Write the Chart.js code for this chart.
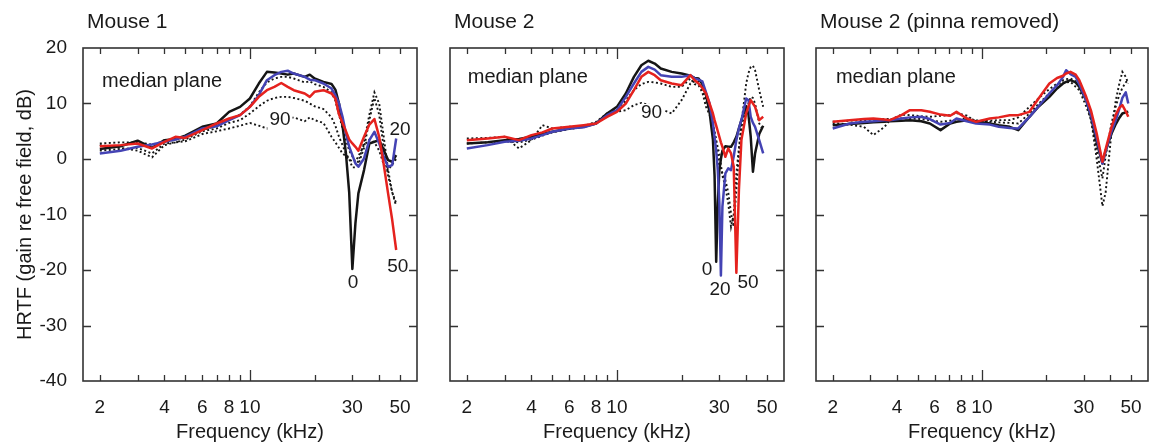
<!DOCTYPE html>
<html><head><meta charset="utf-8">
<script src="https://cdn.jsdelivr.net/npm/chart.js@4.4.0/dist/chart.umd.min.js"></script>
<style>
html,body{margin:0;padding:0;background:#fff;}
#wrap{position:relative;width:1152px;height:444px;overflow:hidden;background:#fff;}
canvas{position:absolute;top:0;}
</style></head><body>
<div id="wrap">
<canvas id="c1" width="430" height="444" style="left:0px"></canvas>
<canvas id="c2" width="370" height="444" style="left:430px"></canvas>
<canvas id="c3" width="352" height="444" style="left:800px"></canvas>
</div>
<script>
// ---------- tick values / labels ----------
const xTickValues = [2, 3, 4, 5, 6, 7, 8, 9, 10, 20, 30, 40, 50];
const xTickLabels = [2, 4, 6, 8, 10, 30, 50];
const yTickValues = [-40, -30, -20, -10, 0, 10, 20];

// ---------- Mouse 1 ----------
const freq1 = [2, 2.5, 3, 3.5, 4, 4.5, 5, 6, 7, 8, 9, 10, 11, 12, 13, 14, 15, 16, 18, 19, 20, 22, 24, 25, 26, 27, 28, 29, 30, 31, 32, 34, 36, 38, 40, 42, 44, 46, 48];
const m1_el0  = [1.8, 2.3, 3.3, 2.0, 3.4, 3.6, 4.2, 5.8, 6.4, 8.5, 9.4, 10.9, 13.6, 15.7, 15.6, 15.4, 15.2, 15.4, 14.8, 15.2, 14.5, 13.9, 13.5, 12.5, 10, 6, 1, -6, -19.8, -11.6, -6.2, -2, 2.8, 3.1, 3.4, 1.6, -0.2, -0.5, 0.7];
const m1_el20 = [1.0, 1.5, 2.2, 2.6, 3.1, 3.5, 4.0, 5.5, 5.9, 7.0, 7.9, 9.4, 11.5, 14.2, 15.1, 15.7, 15.9, 15.4, 14.8, 14.3, 14.2, 13.6, 12.7, 11.5, 10, 7.6, 4.6, 2.2, 0.7, -0.8, -1.4, 0.1, 3.4, 4.9, 2.8, 0.4, -1.4, -1.1, 3.7];
const m1_el50 = [2.3, 2.5, 2.8, 1.9, 3.1, 4.0, 3.8, 5.2, 6.4, 7.3, 7.9, 9.4, 11.2, 12.4, 13.0, 13.7, 13.0, 12.4, 11.8, 11.2, 12.1, 12.4, 11.8, 10.9, 8.0, 6.5, 5.0, 3.5, 2.8, 2.2, 1.5, 4.0, 6.2, 7.2, 4.0, -1.0, -6.2, -11, -16.4];
const m1_dotA = [2.8, 3.0, 3.0, 2.6, 3.2, 3.5, 4.0, 5.2, 6.0, 7.0, 8.0, 9.5, 12.0, 13.8, 14.5, 14.8, 14.8, 14.5, 13.8, 14.0, 13.5, 13.0, 12.0, 10.5, 8.0, 5.5, 3.5, 1.5, 0.5, -0.5, -0.5, 3.0, 8.0, 12.0, 10.0, 4.0, -2.0, -6.0, -8.5];
const m1_dotB = [2.5, 2.0, 1.5, 0.3, 2.5, 3.0, 3.5, 5.0, 5.5, 6.5, 7.0, 8.2, 9.5, 10.5, 11.0, 11.2, 11.2, 11.0, 10.5, 10.0, 9.5, 9.0, 7.5, 6.0, 4.0, 2.5, 1.0, 0, -1.5, -1.5, -1.0, 2.0, 7.0, 11.0, 8.0, 2.0, -3.0, -6.0, -8.0];
const m1_el90 = [1.5, 1.8, 2.0, 1.0, 2.8, 3.0, 3.2, 4.5, 5.0, 5.5, 6.0, 6.5, 6.0, 5.5, 6.0, 6.5, 7.2, 7.5, 6.8, 7.5, 7.0, 6.5, 4.0, 3.0, 2.0, 1.0, 0.5, 0, -0.5, -0.5, 0.5, 2.5, 3.5, 3.0, 1.5, -1.0, -2.0, -1.0, 0];

// ---------- Mouse 2 ----------
const freq2 = [2, 2.5, 3, 3.5, 4, 4.5, 5, 6, 7, 8, 9, 10, 11, 12, 13, 14, 15, 16, 18, 20, 22, 23, 24, 25, 26, 27, 28, 28.5, 29, 29.5, 30, 30.5, 31, 32, 33, 34, 35, 36, 37, 38, 40, 41, 42, 43, 44, 46, 48];
const m2_el0  = [2.8, 3.0, 3.4, 3.6, 4.0, 4.5, 4.9, 5.5, 5.8, 6.4, 8.2, 9.4, 11.8, 14.8, 16.9, 17.7, 17.2, 16.3, 15.7, 15.4, 15.0, 14.6, 14.5, 13.5, 11.5, 8.5, 3.5, -3, -18.5, -8, -2, 0, 1.5, 2.3, 2.2, 2.2, 3.0, 4.0, 5.5, 7.0, 9.5, 8.0, 4.0, -2.3, 1.0, 4.5, 6.0];
const m2_el20 = [1.9, 2.5, 3.1, 3.3, 3.7, 4.3, 4.9, 5.5, 5.7, 6.4, 7.9, 8.8, 11.2, 13.6, 15.7, 16.6, 16.1, 15.1, 14.8, 14.8, 15.1, 14.5, 14.3, 14.0, 12.0, 10.0, 6.5, 4.0, 1.5, -2.0, -8.0, -21, -8.6, -2.6, -1.7, -2.0, 0.5, 3.4, 5.5, 7.0, 10.9, 10.6, 7.6, 6.5, 5.8, 3.4, 1.0];
const m2_el50 = [3.4, 3.7, 4.0, 3.4, 4.3, 4.8, 5.5, 5.8, 6.1, 6.4, 7.6, 8.5, 10.0, 12.4, 14.8, 15.7, 15.1, 14.2, 13.6, 13.3, 15.1, 14.2, 13.6, 12.8, 11.8, 10.0, 8.2, 7.0, 6.0, 5.0, 4.0, 3.0, 2.2, 0.4, 1.9, 1.0, -1.4, -20.5, -5.6, 3.4, 8.2, 9.5, 10.6, 10.0, 9.4, 7.0, 7.6];
const m2_dotA = [2.8, 3.0, 3.2, 3.0, 3.5, 4.2, 4.8, 5.4, 5.8, 6.5, 7.8, 9.1, 10.5, 12.4, 13.5, 13.9, 13.8, 13.6, 13.0, 13.0, 14.5, 13.5, 13.3, 12.0, 9.4, 8.0, 6.4, 5.0, 3.5, 2.0, 1.0, -1.0, -3.0, -5.0, -8.0, -12.2, -10.0, -2.6, 2.0, 5.8, 8.8, 10.0, 11.2, 11.0, 10.0, 6.4, 5.2];
const m2_el90 = [3.7, 3.8, 4.0, 1.9, 3.4, 6.1, 5.5, 5.8, 5.9, 6.7, 8.2, 8.5, 8.8, 9.7, 10.1, 9.8, 9.5, 9.0, 8.2, 10.6, 13.6, 14.0, 13.9, 12.5, 10.6, 8.5, 5.8, 4.5, 3.0, 1.0, -1.4, -2.0, -2.5, -3.8, -6.0, -9.8, -12.2, -5.6, 1.0, 6.4, 13.6, 15.5, 16.6, 16.8, 16.0, 12.4, 9.4];

// ---------- Mouse 2 (pinna removed) ----------
const freq3 = [2, 2.4, 2.8, 3.1, 3.5, 3.7, 4.2, 4.6, 5.2, 5.7, 6.4, 7.1, 7.6, 8.5, 9.4, 10.9, 12, 13.5, 14.8, 16.7, 18.5, 20.7, 22.5, 24, 24.8, 26, 27.5, 28.6, 30.8, 32.5, 34.5, 36.7, 38, 40.5, 42.4, 44, 45.5, 47.2, 48.5];
const m3_el0  = [6.1, 6.3, 6.5, 6.6, 6.7, 6.8, 6.9, 7.0, 6.8, 6.4, 5.2, 6.4, 6.7, 7.0, 6.8, 6.4, 6.1, 5.8, 5.2, 7.6, 9.5, 11.2, 12.7, 13.6, 13.9, 14.2, 13.8, 13.0, 10.6, 7.5, 3.0, -0.8, 1.5, 4.6, 6.3, 7.4, 8.2, 8.4, 8.5];
const m3_el20 = [5.5, 6.4, 6.7, 6.8, 7.0, 7.0, 7.3, 7.5, 7.6, 7.2, 6.2, 6.5, 7.3, 6.8, 6.4, 6.2, 5.8, 5.6, 5.5, 7.6, 9.6, 11.8, 13.3, 14.8, 16.0, 15.3, 14.8, 13.5, 10.6, 7.8, 3.8, -0.8, 1.5, 5.0, 7.0, 9.0, 11.0, 12.0, 10.0];
const m3_el50 = [6.7, 7.0, 7.2, 7.3, 7.1, 7.0, 7.9, 8.8, 8.8, 8.5, 8.0, 7.8, 8.5, 7.3, 6.7, 7.3, 7.5, 7.9, 7.9, 8.5, 11.0, 13.6, 14.6, 15.0, 15.4, 15.7, 15.2, 14.2, 11.2, 8.6, 4.6, -0.5, 1.8, 5.8, 8.0, 9.2, 9.7, 8.6, 7.6];
const m3_dotA = [6.4, 6.2, 5.8, 4.3, 5.8, 7.0, 8.0, 7.9, 7.7, 7.6, 7.8, 7.9, 8.3, 7.8, 6.7, 6.9, 7.0, 7.0, 7.5, 9.4, 11.0, 12.6, 13.6, 13.8, 13.8, 13.9, 13.0, 12.4, 9.5, 7.0, 0.0, -8.5, -6.0, 5.0, 10.6, 13.5, 15.7, 14.8, 13.6];
const m3_dotB = [6.7, 6.9, 7.0, 7.1, 7.2, 7.2, 7.3, 7.3, 7.2, 7.0, 6.7, 6.9, 7.1, 7.3, 7.0, 6.7, 6.6, 6.5, 6.4, 8.2, 10.0, 11.8, 13.2, 14.2, 14.4, 14.5, 14.0, 13.6, 10.5, 7.0, 1.5, -3.5, 0.5, 6.5, 9.5, 11.5, 12.8, 13.8, 14.2];

// ---------- styling ----------
const FONT = '"Liberation Sans", Arial, Helvetica, sans-serif';
const RED = '#e5221e', BLUE = '#4443b4', BLACK = '#151515';

function pts(freq, vals) { return freq.map((f, i) => ({ x: f, y: vals[i] })); }
function solid(freq, vals, color) {
  return { data: pts(freq, vals), borderColor: color, borderWidth: 2.5, pointRadius: 0, tension: 0, fill: false, borderJoinStyle: 'round' };
}
function dotted(freq, vals) {
  return { data: pts(freq, vals), borderColor: BLACK, borderWidth: 1.9, borderDash: [2, 2.5], pointRadius: 0, tension: 0, fill: false };
}

const frameTicks = {
  id: 'frameTicks',
  afterDatasetsDraw(chart, args, o) {
    const { ctx, chartArea: a, scales: { x, y } } = chart;
    ctx.save();
    // notes
    (o.notes || []).forEach(n => {
      ctx.font = (n.size || 19) + 'px ' + FONT;
      ctx.textAlign = n.align || 'center';
      ctx.textBaseline = 'middle';
      const px = x.getPixelForValue(n.x), py = y.getPixelForValue(n.y);
      if (n.bg) {
        const w = ctx.measureText(n.text).width;
        ctx.fillStyle = '#fff';
        ctx.fillRect(px - w / 2 - 2, py - 9, w + 4, 18);
      }
      ctx.fillStyle = '#1a1a1a';
      ctx.fillText(n.text, px, py);
    });
    // ticks
    ctx.strokeStyle = '#333';
    ctx.lineWidth = 1.3;
    ctx.beginPath();
    xTickValues.forEach(v => {
      const px = Math.round(x.getPixelForValue(v)) + 0.5;
      const len = v === 10 ? 11 : 6;
      ctx.moveTo(px, a.bottom); ctx.lineTo(px, a.bottom - len);
      ctx.moveTo(px, a.top); ctx.lineTo(px, a.top + len);
    });
    yTickValues.slice(1, -1).forEach(v => {
      const py = Math.round(y.getPixelForValue(v)) + 0.5;
      ctx.moveTo(a.left, py); ctx.lineTo(a.left + 8, py);
      ctx.moveTo(a.right, py); ctx.lineTo(a.right - 8, py);
    });
    ctx.stroke();
    ctx.lineWidth = 1.6;
    ctx.strokeRect(a.left, a.top, a.right - a.left, a.bottom - a.top);
    // panel title
    ctx.font = '21px ' + FONT;
    ctx.textAlign = 'left';
    ctx.textBaseline = 'middle';
    ctx.fillStyle = '#1a1a1a';
    ctx.fillText(o.title, a.left + 4, 22);
    ctx.restore();
  }
};

function makeChart(id, datasets, cfg) {
  return new Chart(document.getElementById(id), {
    type: 'line',
    data: { datasets },
    plugins: [frameTicks],
    options: {
      responsive: false, animation: false, devicePixelRatio: 1,
      layout: { padding: { left: 0, right: cfg.padRight, top: 48, bottom: 0 } },
      plugins: {
        legend: { display: false }, tooltip: { enabled: false },
        frameTicks: { title: cfg.title, notes: cfg.notes }
      },
      scales: {
        x: {
          type: 'logarithmic', min: 1.67, max: 60,
          grid: { display: false }, border: { display: false },
          afterBuildTicks: s => { s.ticks = xTickValues.map(v => ({ value: v })); },
          afterFit: s => { s.height = 63; },
          ticks: {
            autoSkip: false, maxRotation: 0, padding: 7, color: '#1a1a1a',
            font: { family: FONT, size: 19 },
            callback: v => xTickLabels.includes(v) ? String(v) : ''
          },
          title: { display: true, text: 'Frequency (kHz)', color: '#1a1a1a', font: { family: FONT, size: 20 }, padding: { top: 0, bottom: 0 } }
        },
        y: {
          type: 'linear', min: -40, max: 20,
          grid: { display: false }, border: { display: false },
          afterBuildTicks: s => { s.ticks = yTickValues.map(v => ({ value: v })); },
          afterFit: s => { s.width = cfg.yWidth; },
          ticks: { display: cfg.showY, padding: 8, color: '#1a1a1a', font: { family: FONT, size: 19 } },
          title: { display: cfg.showY, text: 'HRTF (gain re free field, dB)', color: '#1a1a1a', font: { family: FONT, size: 20 }, padding: { top: 13, bottom: 13 } }
        }
      }
    }
  });
}

makeChart('c1', [
  solid(freq1, m1_el50, RED), solid(freq1, m1_el20, BLUE), solid(freq1, m1_el0, BLACK),
  dotted(freq1, m1_dotA), dotted(freq1, m1_dotB), dotted(freq1, m1_el90)
], {
  title: 'Mouse 1', padRight: 13, yWidth: 83, showY: true,
  notes: [
    { text: 'median plane', x: 2.05, y: 13.9, align: 'left', size: 20 },
    { text: '90', x: 13.8, y: 7.0, bg: true },
    { text: '20', x: 50, y: 5.2 },
    { text: '50', x: 48.8, y: -19.5 },
    { text: '0', x: 30.2, y: -22.3 }
  ]
});

makeChart('c2', [
  solid(freq2, m2_el50, RED), solid(freq2, m2_el20, BLUE), solid(freq2, m2_el0, BLACK),
  dotted(freq2, m2_dotA), dotted(freq2, m2_el90)
], {
  title: 'Mouse 2', padRight: 16, yWidth: 20, showY: false,
  notes: [
    { text: 'median plane', x: 2.02, y: 14.6, align: 'left', size: 20 },
    { text: '90', x: 14.5, y: 8.3, bg: true },
    { text: '0', x: 26.3, y: -20.0 },
    { text: '20', x: 30.2, y: -23.6 },
    { text: '50', x: 40.8, y: -22.3 }
  ]
});

makeChart('c3', [
  solid(freq3, m3_el50, RED), solid(freq3, m3_el20, BLUE), solid(freq3, m3_el0, BLACK),
  dotted(freq3, m3_dotA), dotted(freq3, m3_dotB)
], {
  title: 'Mouse 2 (pinna removed)', padRight: 4, yWidth: 16, showY: false,
  notes: [
    { text: 'median plane', x: 2.07, y: 14.6, align: 'left', size: 20 }
  ]
});
</script>
</body></html>
